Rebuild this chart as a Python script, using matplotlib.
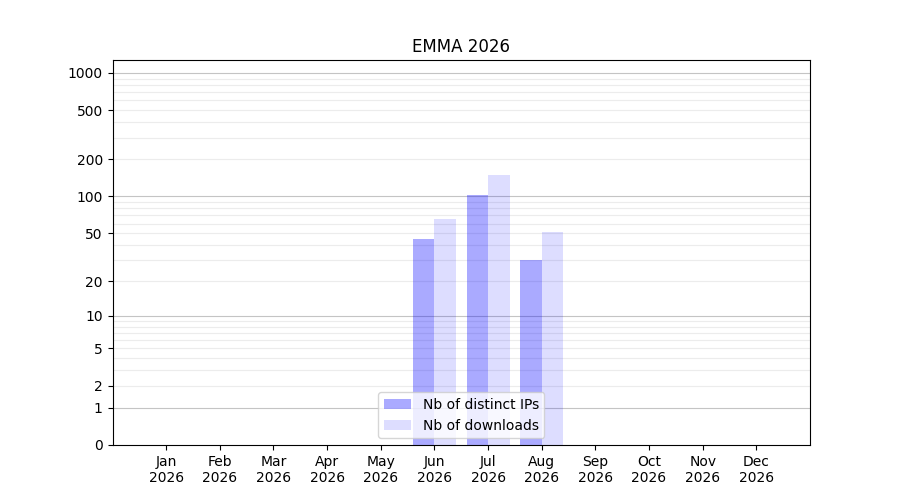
import numpy as np
import matplotlib
matplotlib.use("Agg")
import matplotlib.pyplot as plt

months = ["Jan", "Feb", "Mar", "Apr", "May", "Jun",
          "Jul", "Aug", "Sep", "Oct", "Nov", "Dec"]
year = "2026"
distinct_ips = [0, 0, 0, 0, 0, 45, 103, 30, 0, 0, 0, 0]
downloads = [0, 0, 0, 0, 0, 65, 149, 51, 0, 0, 0, 0]
ytick_values = [0, 1, 2, 5, 10, 20, 50, 100, 200, 500, 1000]

x = np.arange(1, len(months) + 1)

fig, ax = plt.subplots(figsize=(9, 5), dpi=100)
ax.set_yscale("function", functions=(lambda v: np.log10(1 + np.clip(v, 0, None)),
                                     lambda v: 10 ** v - 1))

# grid: decades darker, 2..9 multiples lighter
for dec in [1, 10, 100, 1000]:
    ax.axhline(dec, color="#c4c4c4", lw=0.8, zorder=0)
    if dec < 1000:
        for m in range(2, 10):
            ax.axhline(dec * m, color="#ececec", lw=0.8, zorder=0)

ax.bar(x - 0.2, distinct_ips, width=0.4, color="blue", alpha=1 / 3,
       label="Nb of distinct IPs", zorder=1)
ax.bar(x + 0.2, downloads, width=0.4, color="blue", alpha=0.133,
       label="Nb of downloads", zorder=1)

ax.set_xlim(0, 13)
ax.set_ylim(0, 1270)
ax.set_yticks(ytick_values)
ax.set_yticklabels([str(v) for v in ytick_values])
ax.minorticks_off()
ax.set_xticks(x)
ax.set_xticklabels([f"{m}\n{year}" for m in months])
ax.set_title("EMMA 2026")
ax.legend(loc="lower center")

fig.savefig("out.png")
